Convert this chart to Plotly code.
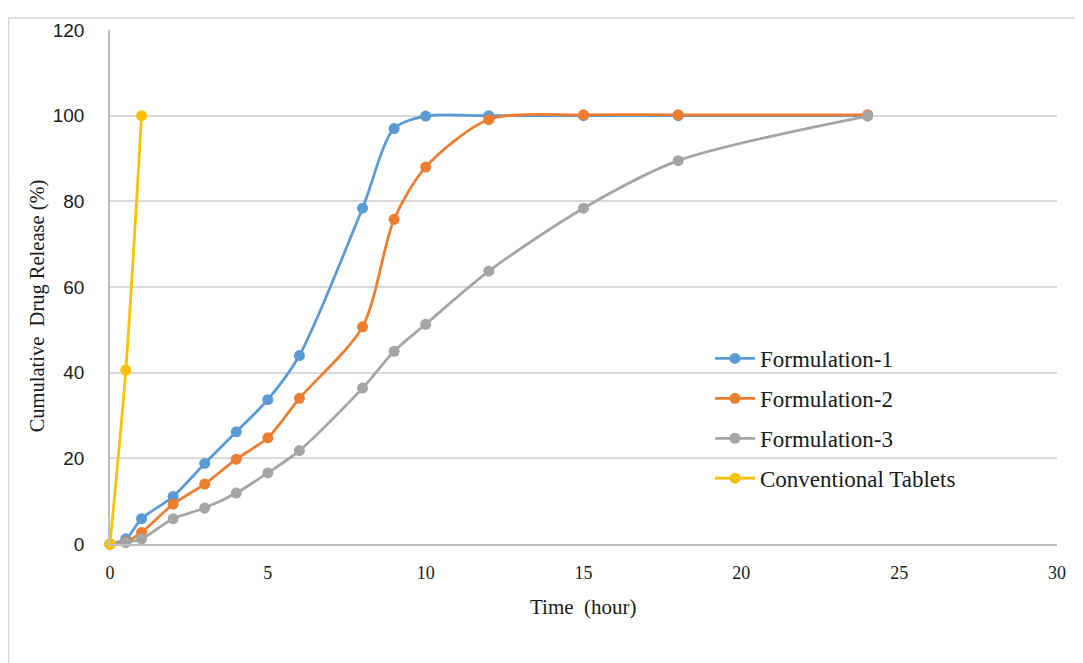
import plotly.graph_objects as go

time_h = [0, 0.5, 1, 2, 3, 4, 5, 6, 8, 9, 10, 12, 15, 18, 24]
formulation_1 = [0, 1.2, 5.9, 11.1, 18.8, 26.2, 33.7, 44.0, 78.4, 97.0, 99.9, 100.0, 100.0, 100.0, 100.0]
formulation_2 = [0, 0.5, 2.7, 9.3, 14.0, 19.8, 24.8, 34.0, 50.7, 75.8, 88.0, 99.1, 100.2, 100.2, 100.2]
formulation_3 = [0, 0.3, 1.2, 5.9, 8.4, 11.9, 16.6, 21.8, 36.4, 45.0, 51.3, 63.7, 78.4, 89.5, 99.9]
conv_time = [0, 0.5, 1]
conventional = [0, 40.6, 100]

series = [
    ("Formulation-1", time_h, formulation_1, "#5B9BD5"),
    ("Formulation-2", time_h, formulation_2, "#ED7D31"),
    ("Formulation-3", time_h, formulation_3, "#A5A5A5"),
    ("Conventional Tablets", conv_time, conventional, "#FFC000"),
]

fig = go.Figure()
for i, (name, xs, ys, col) in enumerate(series):
    fig.add_trace(go.Scatter(
        x=xs, y=ys, name=name, mode="lines+markers",
        line=dict(color=col, width=2.75, shape="spline", smoothing=0.8),
        marker=dict(color=col, size=11),
        legendgroup=f"g{i}", cliponaxis=False,
    ))

OFF = 8  # page body margin
W, H = 1083, 663
# desired plot area in page pixels: x 110..1057, y 25..544
L = 110 - OFF
T = 25 - OFF
R = W - 1057 + OFF
B = H - 544 + OFF
pw = W - L - R
ph = H - T - B

def px(xp):
    return (xp - OFF - L) / pw

def py(yp):
    return (H - B - (yp - OFF)) / ph

fig.update_layout(
    width=W, height=H,
    margin=dict(l=L, r=R, t=T, b=B),
    paper_bgcolor="white", plot_bgcolor="white",
    showlegend=True,
    legend=dict(
        x=px(710), y=py(335), xanchor="left", yanchor="top",
        font=dict(family="Liberation Serif", size=23, color="#1a1a1a"),
        bgcolor="rgba(255,255,255,0)",
        traceorder="grouped", tracegroupgap=7,
        itemwidth=40,
    ),
    xaxis=dict(
        range=[0, 30], dtick=5, tick0=0, showgrid=False, zeroline=False,
        showline=True, linecolor="#BFBFBF", linewidth=1.5,
        ticks="", ticklabelstandoff=12,
        tickfont=dict(family="Liberation Serif", size=18, color="#1a1a1a"),
    ),
    yaxis=dict(
        range=[0, 120], dtick=20, tick0=0, showgrid=True, gridcolor="#D9D9D9",
        gridwidth=1.5, zeroline=False,
        showline=True, linecolor="#BFBFBF", linewidth=1.5,
        ticks="", ticklabelstandoff=20,
        tickfont=dict(family="Liberation Sans", size=19, color="#1a1a1a"),
    ),
    annotations=[
        dict(text="Time  (hour)", xref="paper", yref="paper", x=0.5, y=py(608),
             xanchor="center", yanchor="middle", showarrow=False,
             font=dict(family="Liberation Serif", size=21, color="#1a1a1a")),
        dict(text="Cumulative  Drug Release (%)", xref="paper", yref="paper",
             x=px(37), y=py(304), textangle=-90,
             xanchor="center", yanchor="middle", showarrow=False,
             font=dict(family="Liberation Serif", size=20.5, color="#1a1a1a")),
    ],
    shapes=[
        dict(type="rect", xref="paper", yref="paper",
             x0=px(8.5), x1=px(1100), y0=py(690), y1=py(13),
             line=dict(color="#D9D9D9", width=1.5), fillcolor="rgba(0,0,0,0)",
             layer="below"),
    ],
)

fig.write_html("out.html")
